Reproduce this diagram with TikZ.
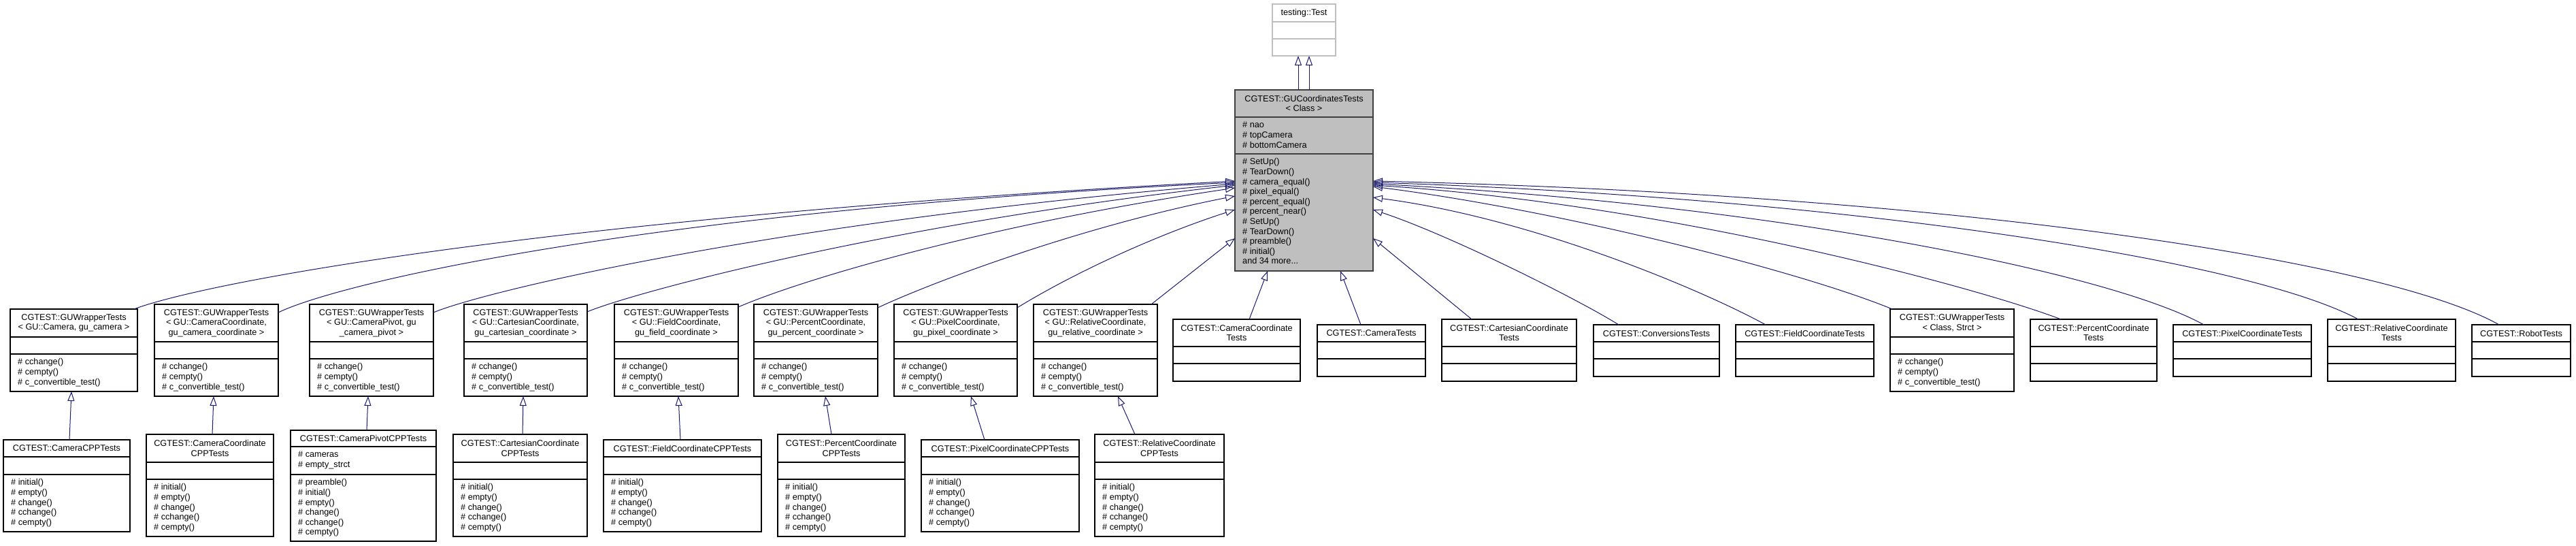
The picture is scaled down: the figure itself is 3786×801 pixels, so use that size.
\documentclass[tikz,border=0pt]{standalone}
\usepackage{fontspec}
\setmainfont{Liberation Sans}
\usetikzlibrary{arrows.meta}
\definecolor{edgeblue}{RGB}{25,25,112}
\definecolor{boxgray}{RGB}{191,191,191}
\definecolor{darkborder}{RGB}{64,64,64}
\tikzset{
 clsbox/.style={draw=black, line width=1.1pt, fill=white, inner sep=0pt, outer sep=0pt},
 sepline/.style={draw=black, line width=1.1pt},
 titletxt/.style={inner sep=0pt, align=center, font=\fontsize{12.7}{14.6}\selectfont},
 membtxt/.style={inner sep=0pt, align=left, anchor=north west, font=\fontsize{12.7}{14.6}\selectfont},
 inh/.style={draw=edgeblue, line width=1pt, -{Triangle[open, length=14pt, width=10pt]}},
}
% #1 options, #2 name, #3 x1, #4 y1, #5 x2, #6 y2, #7 sep1, #8 sep2
\newcommand\cls[8][]{%
  \node[clsbox,#1, minimum width={(#5-#3)*1pt}, minimum height={(#6-#4)*1pt}] (#2) at ({(#3+#5)/2},{(#4+#6)/2}) {};
  \draw[sepline,#1] (#3,#7) -- (#5,#7) (#3,#8) -- (#5,#8);
  \def\clsL{#3}\def\clsR{#5}\def\clsT{#4}\def\clsA{#7}\def\clsB{#8}}
% #1 name, #2 title, #3 attributes, #4 methods
\newcommand\clstxt[4]{%
  \node[titletxt] (#1t) at ({(\clsL+\clsR)/2},{(\clsT+\clsA)/2}) {#2};
  \if\relax\detokenize{#3}\relax\else
  \node[membtxt] (#1a) at ({\clsL+11},{\clsA+5.5}) {\strut#3};\fi
  \if\relax\detokenize{#4}\relax\else
  \node[membtxt] (#1m) at ({\clsL+11},{\clsB+5.5}) {\strut#4};\fi}
\newcommand\wrapm{\# cchange()\\\# cempty()\\\# c\_convertible\_test()}
\newcommand\cppm{\# initial()\\\# empty()\\\# change()\\\# cchange()\\\# cempty()}
\begin{document}
\begin{tikzpicture}[x=1pt,y=-1pt]
\useasboundingbox[fill=white] (0,0) rectangle (3786,801);
% base classes
\cls[draw=boxgray]{T}{1870}{6}{1963}{82}{32}{57}
\clstxt{T}{testing::Test}{}{}
\cls[fill=boxgray, draw=darkborder]{M}{1815}{132}{2018}{398}{172}{226}
\clstxt{M}{CGTEST::GUCoordinatesTests\\< Class >}{\# nao\\\# topCamera\\\# bottomCamera}{\# SetUp()\\\# TearDown()\\\# camera\_equal()\\\# pixel\_equal()\\\# percent\_equal()\\\# percent\_near()\\\# SetUp()\\\# TearDown()\\\# preamble()\\\# initial()\\and 34 more...}
% middle row
\cls{A1}{15}{454}{202}{575}{495}{520}
\clstxt{A1}{CGTEST::GUWrapperTests\\< GU::Camera, gu\_camera >}{}{\wrapm}
\cls{A2}{227}{447}{409}{582}{502}{527}
\clstxt{A2}{CGTEST::GUWrapperTests\\< GU::CameraCoordinate,\\gu\_camera\_coordinate >}{}{\wrapm}
\cls{A3}{455}{447}{637}{582}{502}{527}
\clstxt{A3}{CGTEST::GUWrapperTests\\< GU::CameraPivot, gu\\\_camera\_pivot >}{}{\wrapm}
\cls{A4}{682}{447}{863}{582}{502}{527}
\clstxt{A4}{CGTEST::GUWrapperTests\\< GU::CartesianCoordinate,\\gu\_cartesian\_coordinate >}{}{\wrapm}
\cls{A5}{903}{447}{1085}{582}{502}{527}
\clstxt{A5}{CGTEST::GUWrapperTests\\< GU::FieldCoordinate,\\gu\_field\_coordinate >}{}{\wrapm}
\cls{A6}{1108}{447}{1290}{582}{502}{527}
\clstxt{A6}{CGTEST::GUWrapperTests\\< GU::PercentCoordinate,\\gu\_percent\_coordinate >}{}{\wrapm}
\cls{A7}{1314}{447}{1495}{582}{502}{527}
\clstxt{A7}{CGTEST::GUWrapperTests\\< GU::PixelCoordinate,\\gu\_pixel\_coordinate >}{}{\wrapm}
\cls{A8}{1519}{447}{1701}{582}{502}{527}
\clstxt{A8}{CGTEST::GUWrapperTests\\< GU::RelativeCoordinate,\\gu\_relative\_coordinate >}{}{\wrapm}
\cls{A9}{1724}{469}{1911}{560}{509}{534}
\clstxt{A9}{CGTEST::CameraCoordinate\\Tests}{}{}
\cls{A10}{1936}{477}{2095}{553}{502}{527}
\clstxt{A10}{CGTEST::CameraTests}{}{}
\cls{A11}{2119}{469}{2317}{560}{509}{534}
\clstxt{A11}{CGTEST::CartesianCoordinate\\Tests}{}{}
\cls{A12}{2342}{477}{2527}{553}{502}{527}
\clstxt{A12}{CGTEST::ConversionsTests}{}{}
\cls{A13}{2551}{477}{2754}{553}{502}{527}
\clstxt{A13}{CGTEST::FieldCoordinateTests}{}{}
\cls{A14}{2778}{454}{2960}{575}{495}{520}
\clstxt{A14}{CGTEST::GUWrapperTests\\< Class, Strct >}{}{\wrapm}
\cls{A15}{2984}{469}{3170}{560}{509}{534}
\clstxt{A15}{CGTEST::PercentCoordinate\\Tests}{}{}
\cls{A16}{3194}{477}{3397}{553}{502}{527}
\clstxt{A16}{CGTEST::PixelCoordinateTests}{}{}
\cls{A17}{3421}{469}{3609}{560}{509}{534}
\clstxt{A17}{CGTEST::RelativeCoordinate\\Tests}{}{}
\cls{A18}{3633}{477}{3778}{553}{502}{527}
\clstxt{A18}{CGTEST::RobotTests}{}{}
% bottom row
\cls{B1}{5}{646}{191}{781}{671}{697}
\clstxt{B1}{CGTEST::CameraCPPTests}{}{\cppm}
\cls{B2}{215}{638}{402}{788}{679}{704}
\clstxt{B2}{CGTEST::CameraCoordinate\\CPPTests}{}{\cppm}
\cls{B3}{427}{632}{641}{795}{656}{697}
\clstxt{B3}{CGTEST::CameraPivotCPPTests}{\# cameras\\\# empty\_strct}{\# preamble()\\\# initial()\\\# empty()\\\# change()\\\# cchange()\\\# cempty()}
\cls{B4}{666}{638}{863}{788}{679}{704}
\clstxt{B4}{CGTEST::CartesianCoordinate\\CPPTests}{}{\cppm}
\cls{B5}{887}{646}{1119}{781}{671}{697}
\clstxt{B5}{CGTEST::FieldCoordinateCPPTests}{}{\cppm}
\cls{B6}{1143}{638}{1330}{788}{679}{704}
\clstxt{B6}{CGTEST::PercentCoordinate\\CPPTests}{}{\cppm}
\cls{B7}{1354}{646}{1586}{781}{671}{697}
\clstxt{B7}{CGTEST::PixelCoordinateCPPTests}{}{\cppm}
\cls{B8}{1609}{638}{1799}{788}{679}{704}
\clstxt{B8}{CGTEST::RelativeCoordinate\\CPPTests}{}{\cppm}
% edges: top
\draw[inh] ([xshift=-8.5pt]M.north) -- ([xshift=-8.5pt]T.south);
\draw[inh] ([xshift=7.5pt]M.north) -- ([xshift=7.5pt]T.south);
% edges: left side
\draw[inh] ([xshift=-5pt]A1.north east) .. controls (300,415) and (800,320) .. ([yshift=-1pt]M.west);
\draw[inh] ([yshift=-12pt]A2.north east) .. controls (500,415) and (950,310) .. ([yshift=-3pt]M.west);
\draw[inh] ([yshift=-12pt]A3.north east) .. controls (720,425) and (1150,325) .. ([yshift=-5pt]M.west);
\draw[inh] ([yshift=-11pt]A4.north east) .. controls (930,430) and (1300,330) .. ([yshift=-7pt]M.west);
\draw[inh] ([yshift=-4pt]A5.north east) .. controls (1180,410) and (1450,330) .. ([yshift=-11pt]M.west);
\draw[inh] ([yshift=-5pt]A6.north east) .. controls (1380,410) and (1600,330) .. ([yshift=-23pt]M.west);
\draw[inh] ([yshift=-5pt]A7.north east) .. controls (1580,400) and (1700,345) .. ([yshift=-43pt]M.west);
\draw[inh] ([xshift=-9pt]A8.north east) -- ([yshift=-85pt]M.west);
% edges: bottom of main
\draw[inh] ([xshift=112pt]A9.north west) -- ([xshift=48pt]M.south west);
\draw[inh] ([xshift=64pt]A10.north west) -- ([xshift=155pt]M.south west);
% edges: right side
\draw[inh] ([xshift=44pt]A11.north west) -- ([yshift=-85pt]M.east);
\draw[inh] ([xshift=37pt]A12.north west) .. controls (2320,440) and (2130,345) .. ([yshift=-43pt]M.east);
\draw[inh] ([xshift=44pt]A13.north west) .. controls (2500,425) and (2250,320) .. ([yshift=-25pt]M.east);
\draw[inh] ([xshift=3pt]A14.north west) .. controls (2650,400) and (2300,310) .. ([yshift=-9pt]M.east);
\draw[inh] ([xshift=45pt]A15.north west) .. controls (2900,420) and (2450,300) .. ([yshift=-7pt]M.east);
\draw[inh] ([xshift=45pt]A16.north west) .. controls (3100,400) and (2600,300) .. ([yshift=-5pt]M.east);
\draw[inh] ([xshift=45pt]A17.north west) .. controls (3300,380) and (2700,290) .. ([yshift=-3pt]M.east);
\draw[inh] ([xshift=40pt]A18.north west) .. controls (3500,380) and (2850,285) .. ([yshift=-1pt]M.east);
% edges: bottom row to middle row
\draw[inh] ([xshift=97pt]B1.north west) -- ([xshift=90pt]A1.south west);
\draw[inh] ([xshift=97pt]B2.north west) -- ([xshift=87pt]A2.south west);
\draw[inh] ([xshift=112pt]B3.north west) -- ([xshift=86pt]A3.south west);
\draw[inh] ([xshift=102pt]B4.north west) -- ([xshift=87pt]A4.south west);
\draw[inh] ([xshift=113pt]B5.north west) -- ([xshift=94pt]A5.south west);
\draw[inh] ([xshift=79pt]B6.north west) -- ([xshift=105pt]A6.south west);
\draw[inh] ([xshift=93pt]B7.north west) -- ([xshift=113pt]A7.south west);
\draw[inh] ([xshift=59pt]B8.north west) -- ([xshift=124pt]A8.south west);
\end{tikzpicture}
\end{document}
